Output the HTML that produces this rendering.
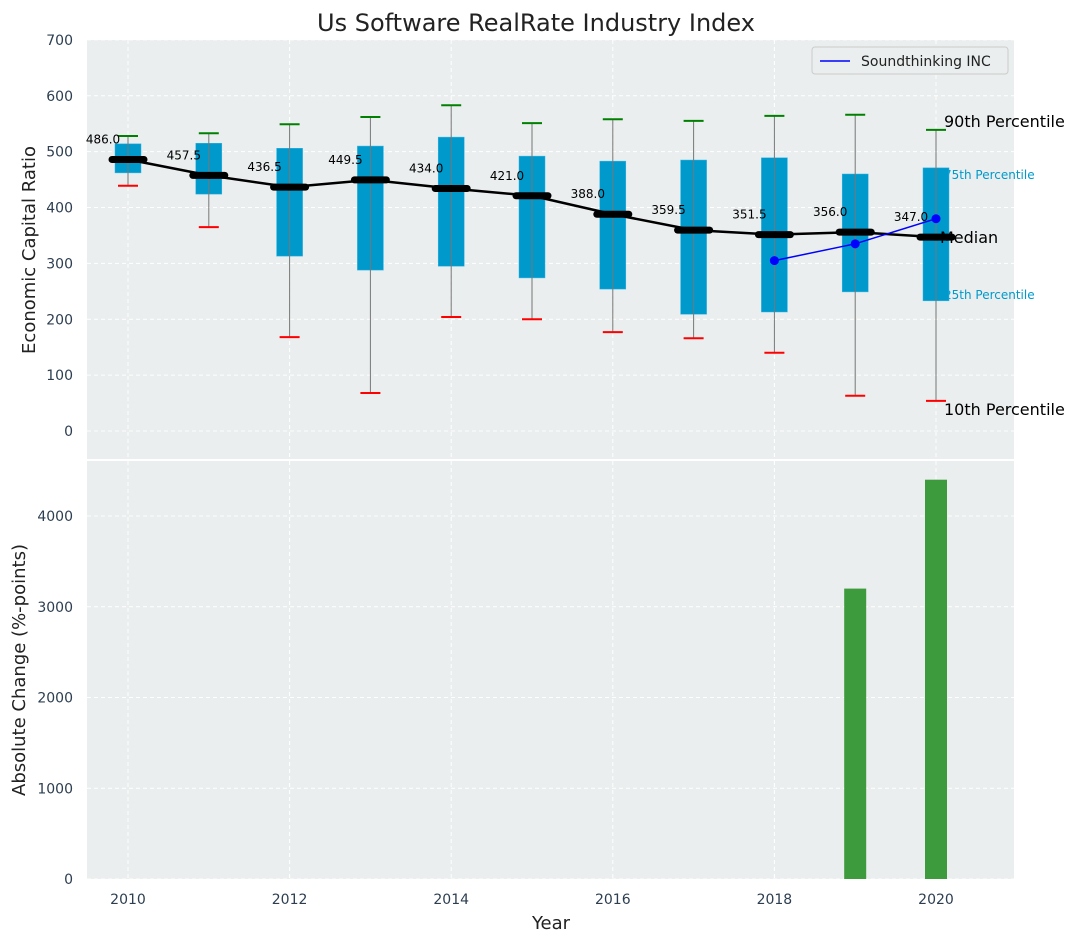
<!DOCTYPE html>
<html><head><meta charset="utf-8"><style>
body{margin:0;background:#fff;font-family:"Liberation Sans","DejaVu Sans",sans-serif}
svg text{font-family:"DejaVu Sans","Liberation Sans",sans-serif}
</style></head><body>
<svg id="c" width="1079" height="942" xmlns="http://www.w3.org/2000/svg"></svg>
<script>
const years=[2010,2011,2012,2013,2014,2015,2016,2017,2018,2019,2020];
const q1=[462,424,313,288,295,274,254,209,213,249,233];
const q3=[514,515,506,510,526,492,483,485,489,460,471];
const lowW=[439,365,168,68,204,200,177,166,140,63,54];
const highW=[528,533,549,562,583,551,558,555,564,566,539];
const medians=[486.0,457.5,436.5,449.5,434.0,421.0,388.0,359.5,351.5,356.0,347.0];
const coYears=[2018,2019,2020];
const coValues=[305,335,380];
const barYears=[2019,2020];
const barValues=[3200,4400];
const topTicks=[0,100,200,300,400,500,600,700];
const botTicks=[0,1000,2000,3000,4000];
const xTicks=[2010,2012,2014,2016,2018,2020];

const NS="http://www.w3.org/2000/svg";
const svg=document.getElementById('c');
function el(t,a,p){const e=document.createElementNS(NS,t);for(const k in a)e.setAttribute(k,a[k]);(p||svg).appendChild(e);return e;}
const L=87,R=1014,T1=40,B1=459,T2=461,B2=879;
const x=v=>128+(v-2010)*80.8;
const y1=v=>431-v*0.5587;
const y2=v=>879-v*0.09075;

let e;
e=el('rect',{x:L,y:T1,width:R-L,height:B1-T1,fill:'#eaeeee'});

e=el('rect',{x:L,y:T2,width:R-L,height:B2-T2,fill:'#eaeeee'});


for(const t of topTicks){el('line',{x1:L,x2:R,y1:y1(t),y2:y1(t),stroke:'#fff','stroke-dasharray':'4,3','stroke-width':1});
 e=el('text',{x:73,y:y1(t)+5,'text-anchor':'end','font-size':14,fill:'#2c3e50'});e.textContent=t;
 }
for(const t of botTicks){el('line',{x1:L,x2:R,y1:y2(t),y2:y2(t),stroke:'#fff','stroke-dasharray':'4,3'});
 e=el('text',{x:73,y:y2(t)+5,'text-anchor':'end','font-size':14,fill:'#2c3e50'});e.textContent=t;
 }
for(const t of xTicks){el('line',{x1:x(t),x2:x(t),y1:T1,y2:B1,stroke:'#fff','stroke-dasharray':'4,3'});
 el('line',{x1:x(t),x2:x(t),y1:T2,y2:B2,stroke:'#fff','stroke-dasharray':'4,3'});
 e=el('text',{x:x(t),y:904,'text-anchor':'middle','font-size':14,fill:'#2c3e50'});e.textContent=t;
 }

// small annotations drawn beneath boxes
[['75th Percentile',944,179],['25th Percentile',944,299]].forEach(a=>{e=el('text',{x:a[1],y:a[2],'font-size':12,fill:'#0099cc'});e.textContent=a[0];
 });

years.forEach((yr,i)=>{
 const cx=x(yr);
 e=el('rect',{x:cx-13,y:y1(q3[i]),width:26,height:y1(q1[i])-y1(q3[i]),fill:'#0099cc',stroke:'#33b5e5','stroke-width':0.5});
 
 e=el('line',{x1:cx,x2:cx,y1:y1(highW[i]),y2:y1(lowW[i]),stroke:'#777','stroke-width':1});
 
 e=el('line',{x1:cx-10,x2:cx+10,y1:y1(highW[i]),y2:y1(highW[i]),stroke:'green','stroke-width':2});
 
 e=el('line',{x1:cx-10,x2:cx+10,y1:y1(lowW[i]),y2:y1(lowW[i]),stroke:'red','stroke-width':2});
 
});
e=el('polyline',{points:years.map((yr,i)=>x(yr)+','+y1(medians[i])).join(' '),fill:'none',stroke:'#000','stroke-width':2.5});

years.forEach((yr,i)=>{
 e=el('line',{x1:x(yr)-16,x2:x(yr)+16,y1:y1(medians[i]),y2:y1(medians[i]),stroke:'#000','stroke-width':7,'stroke-linecap':'round'});
 
 e=el('text',{x:x(yr)-25,y:y1(medians[i])-16,'text-anchor':'middle','font-size':12,fill:'#000'});e.textContent=medians[i].toFixed(1);
 
});
e=el('polyline',{points:coYears.map((yr,i)=>x(yr)+','+y1(coValues[i])).join(' '),fill:'none',stroke:'blue','stroke-width':1.5});

coYears.forEach((yr,i)=>{e=el('circle',{cx:x(yr),cy:y1(coValues[i]),r:4.5,fill:'blue'});
 });

[['90th Percentile',944,127],['Median',940,243],['10th Percentile',944,415]].forEach(a=>{e=el('text',{x:a[1],y:a[2],'font-size':16,fill:'#000'});e.textContent=a[0];
 });

barYears.forEach((yr,i)=>{e=el('rect',{x:x(yr)-11,y:y2(barValues[i]),width:22,height:y2(0)-y2(barValues[i]),fill:'#3d9a3d'});
 });

const lg=el('g',{});
el('rect',{x:812,y:47,width:196,height:27,rx:3,fill:'#eaeeee',stroke:'#ccc'},lg);
el('line',{x1:820,x2:850,y1:61,y2:61,stroke:'blue','stroke-width':1.5},lg);
e=el('text',{x:861,y:66,'font-size':14,fill:'#222'},lg);e.textContent='Soundthinking INC';

e=el('text',{x:536,y:31,'text-anchor':'middle','font-size':24,fill:'#222'});e.textContent='Us Software RealRate Industry Index';

e=el('text',{x:0,y:0,'text-anchor':'middle','font-size':18,fill:'#222',transform:'translate(35,250) rotate(-90)'});e.textContent='Economic Capital Ratio';

e=el('text',{x:0,y:0,'text-anchor':'middle','font-size':18,fill:'#222',transform:'translate(25,670) rotate(-90)'});e.textContent='Absolute Change (%-points)';

e=el('text',{x:551,y:929,'text-anchor':'middle','font-size':18,fill:'#222'});e.textContent='Year';

</script>
</body></html>
